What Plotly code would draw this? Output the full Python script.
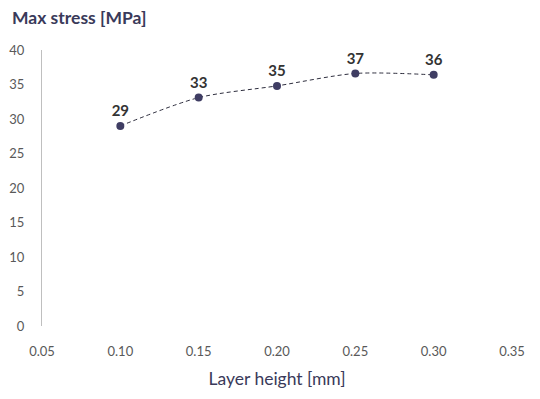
import plotly.graph_objects as go

layer_height = [0.10, 0.15, 0.20, 0.25, 0.30]
max_stress = [29.0, 33.1, 34.8, 36.6, 36.4]
labels = ["29", "33", "35", "37", "36"]

x_ticks = [0.05, 0.10, 0.15, 0.20, 0.25, 0.30, 0.35]
x_tick_text = ["0.05", "0.10", "0.15", "0.20", "0.25", "0.30", "0.35"]
y_ticks = [0, 5, 10, 15, 20, 25, 30, 35, 40]

fig = go.Figure()
fig.add_trace(go.Scatter(
    x=layer_height, y=max_stress,
    mode="lines+markers+text",
    line=dict(shape="spline", smoothing=0.8, dash="4px,3px", color="#2e2e3e", width=1),
    marker=dict(size=8, color="#3f3d63"),
    text=labels, textposition="top center",
    textfont=dict(family="Lato", size=15, color="#333333", weight="bold"),
    cliponaxis=False,
    showlegend=False,
))

fig.update_layout(
    width=532, height=391,
    margin=dict(l=34, r=28, t=42, b=73, autoexpand=False),
    paper_bgcolor="white", plot_bgcolor="white",
    title=dict(text="<b>Max stress [MPa]</b>", x=0.0075, xanchor="left", y=0.99, yanchor="top",
               font=dict(family="Lato", size=17.5, color="#3a3a5a")),
    xaxis=dict(range=[0.05, 0.35], tickvals=x_ticks, ticktext=x_tick_text,
               showgrid=False, zeroline=False, showline=False, automargin=False,
               tickfont=dict(family="Lato", size=13, color="#595959"), ticklabelstandoff=16,
               title=dict(text="Layer height [mm]", font=dict(family="Lato", size=17.5, color="#3a3a5a"), standoff=14)),
    yaxis=dict(range=[0, 40], tickvals=y_ticks, showgrid=False, zeroline=False,
               showline=True, linecolor="#bfbfbf", linewidth=1, automargin=False,
               tickfont=dict(family="Lato", size=13, color="#595959"), ticklabelstandoff=14),
)

fig.write_html("out.html")
